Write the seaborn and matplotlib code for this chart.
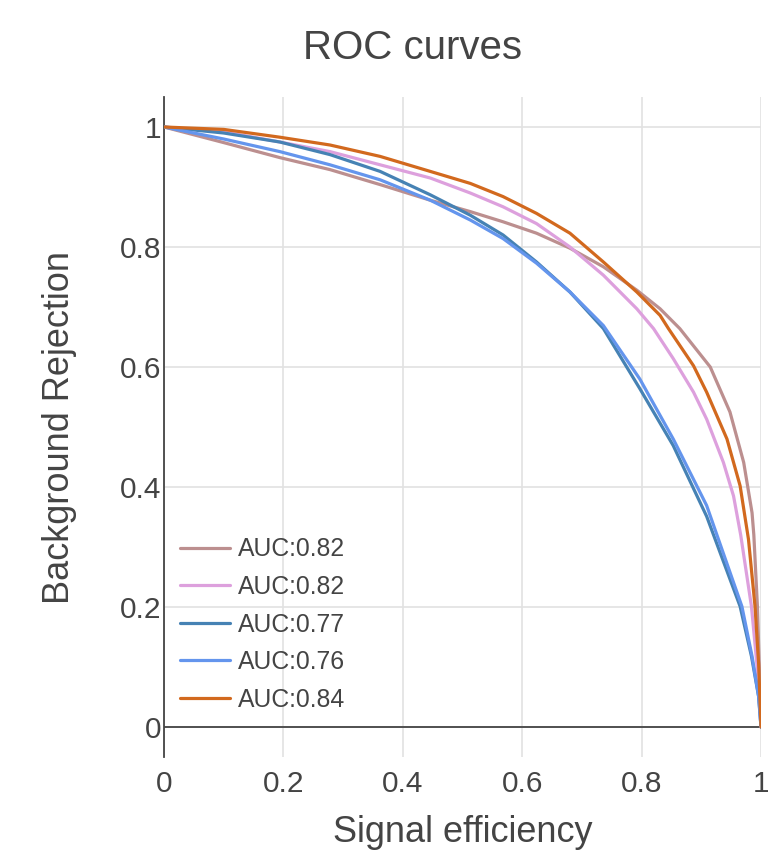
import matplotlib
matplotlib.use('Agg')
import matplotlib.pyplot as plt
import seaborn as sns
import pandas as pd

# ROC curves: signal efficiency vs background rejection
eff_a = [0, 0.1, 0.194, 0.278, 0.362, 0.446, 0.513, 0.568, 0.624, 0.68, 0.736, 0.792, 0.831,
         0.864, 0.915, 0.948, 0.971, 0.985, 0.988, 0.994, 0.997, 1.0]
rej_a = [1, 0.974, 0.949, 0.929, 0.904, 0.878, 0.859, 0.842, 0.823, 0.798, 0.767, 0.728, 0.697,
         0.664, 0.6, 0.525, 0.441, 0.357, 0.32, 0.201, 0.106, 0]

eff_b = [0, 0.1, 0.194, 0.278, 0.362, 0.446, 0.513, 0.568, 0.624, 0.68, 0.736, 0.792, 0.82,
         0.853, 0.887, 0.909, 0.937, 0.954, 0.966, 0.984, 0.993, 1.0]
rej_b = [1, 0.992, 0.975, 0.959, 0.937, 0.915, 0.89, 0.867, 0.839, 0.8, 0.753, 0.697, 0.664,
         0.614, 0.558, 0.513, 0.441, 0.385, 0.32, 0.201, 0.106, 0]

eff_c = [0, 0.1, 0.194, 0.278, 0.362, 0.446, 0.513, 0.568, 0.624, 0.68, 0.736, 0.797, 0.853,
         0.909, 0.965, 0.984, 0.996, 1.0]
rej_c = [1, 0.99, 0.975, 0.954, 0.926, 0.887, 0.853, 0.82, 0.775, 0.725, 0.664, 0.564, 0.469,
         0.351, 0.201, 0.118, 0.051, 0]

eff_d = [0, 0.1, 0.194, 0.278, 0.362, 0.446, 0.513, 0.568, 0.624, 0.68, 0.736, 0.797, 0.853,
         0.909, 0.968, 0.985, 0.996, 1.0]
rej_d = [1, 0.98, 0.959, 0.937, 0.912, 0.878, 0.845, 0.814, 0.773, 0.725, 0.669, 0.58, 0.48,
         0.369, 0.201, 0.118, 0.051, 0]

eff_e = [0, 0.1, 0.194, 0.278, 0.362, 0.446, 0.513, 0.568, 0.624, 0.68, 0.736, 0.792, 0.831,
         0.845, 0.887, 0.909, 0.943, 0.965, 0.979, 0.99, 0.996, 1.0]
rej_e = [1, 0.996, 0.983, 0.97, 0.951, 0.926, 0.906, 0.884, 0.856, 0.823, 0.775, 0.725, 0.686,
         0.664, 0.602, 0.558, 0.48, 0.402, 0.313, 0.201, 0.106, 0]

labels = ['AUC:0.82', 'AUC:0.82', 'AUC:0.77', 'AUC:0.76', 'AUC:0.84']
colors = ['rosybrown', 'plum', 'steelblue', 'cornflowerblue', 'chocolate']
curves = [(eff_a, rej_a), (eff_b, rej_b), (eff_c, rej_c), (eff_d, rej_d), (eff_e, rej_e)]

sns.set_style('white')
plt.rcParams['font.family'] = ['Liberation Sans', 'DejaVu Sans']
txt = '#444444'

fig = plt.figure(figsize=(7.68, 8.56), dpi=100)
ax = fig.add_axes([164/768, 1 - 757/856, 597/768, 660/856])

for (x, y), lab, col in zip(curves, labels, colors):
    df = pd.DataFrame({'eff': x, 'rej': y})
    sns.lineplot(data=df, x='eff', y='rej', sort=False, color=col, lw=2.3,
                 label=lab, ax=ax, zorder=3)

ax.set_xlim(0, 1)
ax.set_ylim(-0.05, 1.05)
ticks = [0, 0.2, 0.4, 0.6, 0.8, 1]
tick_labels = ['0', '0.2', '0.4', '0.6', '0.8', '1']
ax.set_xticks(ticks)
ax.set_xticklabels(tick_labels)
ax.set_yticks(ticks)
ax.set_yticklabels(tick_labels)
ax.grid(True, color='#e2e2e2', lw=1.2)
ax.set_axisbelow(True)
ax.axhline(0, color='#444444', lw=1.3, zorder=2)
for s in ['top', 'right', 'bottom']:
    ax.spines[s].set_visible(False)
ax.spines['left'].set_color('#444444')
ax.spines['left'].set_linewidth(1.3)
ax.tick_params(axis='both', length=0, labelsize=21.5, labelcolor=txt)
ax.tick_params(axis='y', pad=2)
ax.tick_params(axis='x', pad=9)

ax.set_xlabel('Signal efficiency', fontsize=26, color=txt)
ax.set_ylabel('Background Rejection', fontsize=26, color=txt)
ax.xaxis.label.set_va('center')
ax.yaxis.label.set_va('center')
ax.xaxis.set_label_coords(0.5, (757 - 833) / 660)
ax.yaxis.set_label_coords((60 - 164) / 597, 0.5)
fig.text(413/768, 1 - 48/856, 'ROC curves', fontsize=29, color=txt,
         ha='center', va='center')

leg = ax.legend(loc='center left', bbox_to_anchor=(0.027, (757 - 624.5) / 660), frameon=False,
                fontsize=17.8, handlelength=2.02, handletextpad=0.32,
                labelspacing=0.55, borderpad=0, borderaxespad=0)
for t in leg.get_texts():
    t.set_color(txt)

fig.savefig('out.png', dpi=100)
